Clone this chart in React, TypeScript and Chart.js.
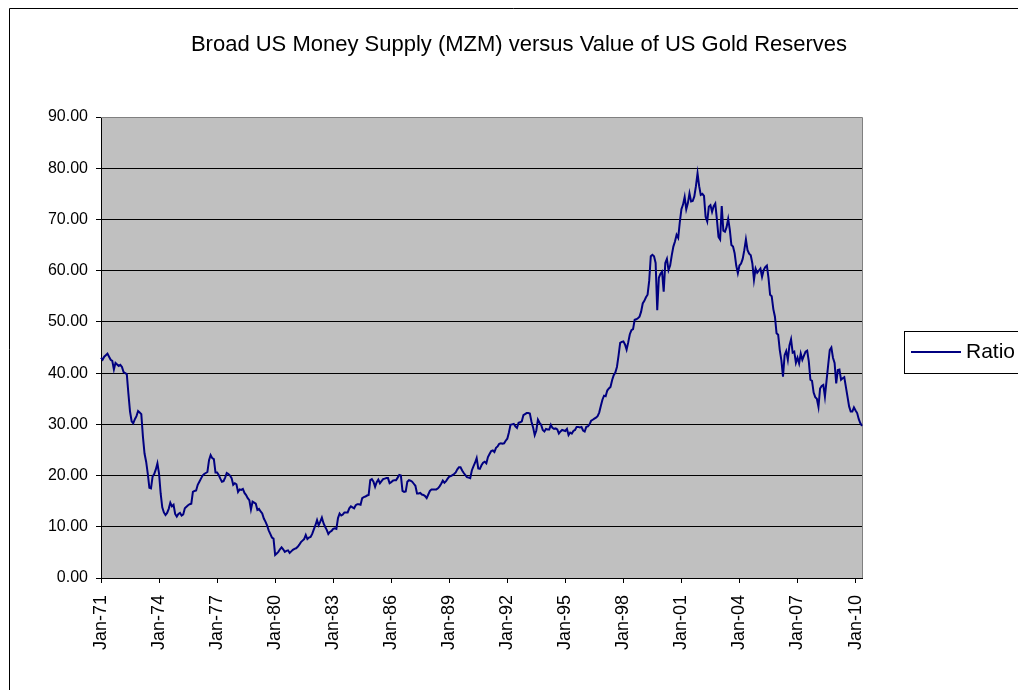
import React, { useEffect, useRef } from "react";
import { Chart, registerables } from "chart.js";

Chart.register(...registerables);

const TITLE = "Broad US Money Supply (MZM) versus Value of US Gold Reserves";
const SERIES_LABEL = "Ratio";
const MONTHS = ["Jan", "Feb", "Mar", "Apr", "May", "Jun", "Jul", "Aug", "Sep", "Oct", "Nov", "Dec"];
const YEARS = [
  "71", "72", "73", "74", "75", "76", "77", "78", "79", "80",
  "81", "82", "83", "84", "85", "86", "87", "88", "89", "90",
  "91", "92", "93", "94", "95", "96", "97", "98", "99", "00",
  "01", "02", "03", "04", "05", "06", "07", "08", "09", "10",
];
const Y_MIN = 0;
const Y_MAX = 90;
const Y_STEP = 10;
const X_TICK_EVERY = 36;

// Monthly ratio values, Jan-71 .. May-10 (one row per year)
const RATIO = [
  43.0, 42.6, 43.2, 43.5, 43.8, 43.2, 42.6, 42.4, 40.7, 42.0, 41.7, 41.4,
  41.6, 41.2, 40.2, 40.0, 39.8, 36.0, 32.5, 30.6, 30.2, 31.0, 31.6, 32.6,
  32.3, 32.0, 27.6, 24.3, 22.7, 20.4, 17.6, 17.5, 19.8, 20.3, 21.2, 22.4,
  20.4, 16.5, 13.8, 12.8, 12.3, 12.7, 13.5, 14.7, 14.0, 14.3, 12.5, 12.0,
  12.5, 12.7, 12.2, 12.4, 13.6, 13.9, 14.2, 14.4, 14.5, 16.8, 17.0, 17.1,
  18.2, 18.8, 19.4, 20.0, 20.3, 20.5, 20.7, 23.0, 24.0, 23.4, 23.2, 20.6,
  20.6, 20.1, 19.4, 18.8, 18.9, 19.6, 20.5, 20.3, 20.0, 19.5, 18.2, 18.5,
  18.3, 16.8, 17.3, 17.2, 17.4, 16.6, 16.2, 15.6, 15.2, 13.4, 14.9, 14.7,
  14.5, 13.3, 13.5, 13.0, 12.6, 11.6, 11.0, 10.3, 9.3, 8.6, 7.9, 7.7,
  4.5, 4.8, 5.1, 5.6, 6.0, 5.6, 5.1, 5.3, 5.4, 4.9, 5.2, 5.5,
  5.7, 5.8, 6.1, 6.5, 7.0, 7.3, 7.6, 8.4, 7.6, 7.9, 8.0, 8.6,
  9.5, 10.3, 11.3, 10.3, 11.0, 11.8, 10.7, 10.0, 9.4, 8.6, 9.0, 9.2,
  9.6, 9.7, 9.6, 11.7, 12.6, 12.2, 12.4, 12.8, 12.8, 12.8, 13.6, 14.0,
  13.8, 13.6, 14.2, 14.4, 14.4, 14.3, 15.6, 15.8, 15.9, 16.1, 16.2, 19.1,
  19.3, 18.8, 17.8, 18.7, 19.2, 18.5, 18.9, 19.3, 19.4, 19.5, 19.5, 18.5,
  18.7, 19.0, 19.1, 19.1, 19.6, 20.1, 20.0, 17.0, 16.8, 16.9, 18.8, 19.1,
  19.0, 18.8, 18.4, 18.0, 16.5, 16.5, 16.6, 16.3, 16.2, 16.0, 15.6, 16.3,
  17.0, 17.3, 17.3, 17.3, 17.3, 17.5, 17.9, 18.4, 19.0, 18.6, 18.9, 19.4,
  19.8, 19.9, 20.1, 20.3, 20.6, 21.2, 21.6, 21.6, 21.0, 20.5, 20.1, 19.7,
  19.6, 19.5, 21.0, 21.8, 22.5, 23.4, 21.4, 21.3, 22.0, 22.5, 22.7, 22.4,
  23.6, 24.2, 24.8, 24.9, 24.6, 25.4, 25.7, 26.2, 26.3, 26.2, 26.3, 26.8,
  27.2, 28.4, 29.9, 30.0, 30.1, 29.6, 29.3, 30.3, 30.4, 30.6, 31.8, 32.0,
  32.2, 32.2, 32.1, 30.5, 29.4, 27.9, 28.8, 30.9, 30.3, 29.9, 28.9, 28.6,
  29.1, 29.0, 29.0, 29.9, 29.3, 29.1, 29.2, 29.0, 28.2, 28.6, 28.9, 28.8,
  28.7, 29.1, 27.9, 28.4, 28.2, 28.7, 28.9, 29.5, 29.5, 29.4, 29.5, 28.8,
  28.6, 29.5, 29.6, 30.0, 30.7, 30.9, 31.1, 31.3, 31.6, 32.3, 33.6, 34.8,
  35.6, 35.5, 36.6, 37.0, 37.3, 38.6, 39.6, 40.1, 41.2, 43.4, 45.9, 46.1,
  46.2, 45.6, 44.6, 46.0, 47.6, 48.4, 48.6, 50.4, 50.5, 50.7, 51.0, 52.0,
  53.6, 54.1, 54.8, 55.3, 58.0, 62.8, 63.1, 62.8, 61.5, 52.3, 58.6, 59.4,
  59.8, 55.9, 61.5, 62.3, 60.1, 61.0, 63.0, 64.7, 65.7, 67.0, 66.4, 69.5,
  72.0, 72.9, 74.4, 72.0, 73.2, 75.1, 73.5, 73.6, 74.5, 76.5, 79.0, 76.5,
  74.8, 75.0, 74.6, 70.5, 69.6, 72.5, 72.8, 71.5, 72.6, 73.1, 70.0, 66.6,
  66.1, 72.6, 67.8, 67.6, 68.5, 70.1, 68.0, 65.0, 64.7, 63.4, 61.0, 59.5,
  61.0, 61.4, 62.3, 64.0, 66.1, 64.0, 63.3, 63.0, 61.4, 58.2, 60.4, 59.6,
  60.0, 60.4, 58.8, 60.1, 60.7, 61.0, 58.6, 55.3, 55.0, 52.5, 51.0, 47.8,
  47.5, 44.5, 42.5, 39.3, 43.5, 44.3, 42.6, 45.4, 46.6, 44.0, 44.2, 42.0,
  43.0, 41.9, 43.8, 42.6, 43.4, 44.2, 44.4, 42.3, 38.7, 38.5, 36.2, 35.3,
  35.0, 33.4, 37.0, 37.5, 37.7, 35.4, 38.5, 41.5, 44.5, 45.0, 43.0, 42.0,
  38.0, 40.6, 40.7, 38.7, 39.0, 39.2, 37.3, 35.4, 33.5, 32.5, 32.5, 33.3,
  32.7, 32.2, 31.0, 30.2, 29.7,
];

const CATEGORIES: string[] = [];
for (const y of YEARS) {
  for (const m of MONTHS) {
    if (CATEGORIES.length < RATIO.length) CATEGORIES.push(`${m}-${y}`);
  }
}

const LINE_COLOR = "#000080";
const FONT = "'Liberation Sans', Arial, sans-serif";

const decor = {
  id: "decor",
  beforeDraw(chart: any) {
    const { ctx, chartArea: a } = chart;
    ctx.save();
    ctx.fillStyle = "#ffffff";
    ctx.fillRect(0, 0, chart.width, chart.height);
    ctx.strokeStyle = "#000000";
    ctx.lineWidth = 1;
    ctx.beginPath();
    ctx.moveTo(9.5, chart.height);
    ctx.lineTo(9.5, 8.5);
    ctx.lineTo(chart.width, 8.5);
    ctx.stroke();
    ctx.fillStyle = "#C0C0C0";
    ctx.fillRect(a.left, a.top, a.right - a.left, a.bottom - a.top);
    ctx.restore();
  },
  beforeDatasetsDraw(chart: any) {
    const { ctx, chartArea: a } = chart;
    ctx.save();
    ctx.strokeStyle = "#808080";
    ctx.lineWidth = 1;
    ctx.beginPath();
    ctx.moveTo(a.left, Math.round(a.top) + 0.5);
    ctx.lineTo(Math.round(a.right) + 0.5, Math.round(a.top) + 0.5);
    ctx.lineTo(Math.round(a.right) + 0.5, a.bottom);
    ctx.stroke();
    ctx.restore();
  },
  afterDraw(chart: any) {
    const { ctx } = chart;
    ctx.save();
    // title
    ctx.fillStyle = "#000000";
    ctx.font = `22px ${FONT}`;
    ctx.textAlign = "center";
    ctx.textBaseline = "middle";
    ctx.fillText(TITLE, 519, 45);
    // legend
    const ds = chart.data.datasets[0];
    ctx.strokeStyle = "#000000";
    ctx.lineWidth = 1;
    ctx.strokeRect(904.5, 331.5, 200, 42);
    ctx.strokeStyle = ds.borderColor;
    ctx.lineWidth = 2;
    ctx.beginPath();
    ctx.moveTo(911, 352);
    ctx.lineTo(961, 352);
    ctx.stroke();
    ctx.fillStyle = "#000000";
    ctx.font = `21px ${FONT}`;
    ctx.textAlign = "left";
    ctx.textBaseline = "middle";
    ctx.fillText(ds.label, 966, 352);
    ctx.restore();
  },
};

export default function App() {
  const ref = useRef<HTMLCanvasElement | null>(null);
  useEffect(() => {
    if (!ref.current) return;
    const chart = new Chart(ref.current, {
      type: "line",
      data: {
        labels: CATEGORIES,
        datasets: [
          {
            label: SERIES_LABEL,
            data: RATIO,
            borderColor: LINE_COLOR,
            backgroundColor: LINE_COLOR,
            borderWidth: 2,
            pointRadius: 0,
            tension: 0,
            fill: false,
          },
        ],
      },
      options: {
        animation: false,
        responsive: false,
        maintainAspectRatio: false,
        layout: { padding: { left: 0, top: 117, right: 156, bottom: 0 } },
        plugins: {
          legend: { display: false },
          title: { display: false },
          tooltip: { enabled: false },
        },
        scales: {
          x: {
            type: "category",
            offset: false,
            afterBuildTicks: (scale: any) => {
              scale.ticks = scale.ticks.filter((t: any) => t.value % X_TICK_EVERY === 0);
            },
            afterFit: (scale: any) => {
              scale.height = 690 - 578;
            },
            grid: {
              drawOnChartArea: false,
              drawTicks: true,
              tickLength: 5,
              color: "#000000",
            },
            border: { display: true, color: "#000000", width: 1 },
            ticks: {
              autoSkip: false,
              maxRotation: 90,
              minRotation: 90,
              padding: 12,
              color: "#000000",
              font: { family: FONT, size: 18 },
            },
          },
          y: {
            min: Y_MIN,
            max: Y_MAX,
            afterFit: (scale: any) => {
              scale.width = 101;
            },
            grid: {
              color: (c: any) => (c.tick && c.tick.value === Y_MAX ? "#808080" : "#000000"),
              tickColor: "#000000",
              tickLength: 5,
              drawTicks: true,
            },
            border: { display: true, color: "#000000", width: 1 },
            ticks: {
              stepSize: Y_STEP,
              padding: 8,
              color: "#000000",
              font: { family: FONT, size: 16 },
              callback: (v: any) => Number(v).toFixed(2),
            },
          },
        },
      },
      plugins: [decor],
    });
    return () => chart.destroy();
  }, []);
  return (
    <div style={{ position: "fixed", left: 0, top: 0, width: 1018, height: 690, background: "#fff" }}>
      <canvas ref={ref} width={1018} height={690} style={{ display: "block" }} />
    </div>
  );
}
